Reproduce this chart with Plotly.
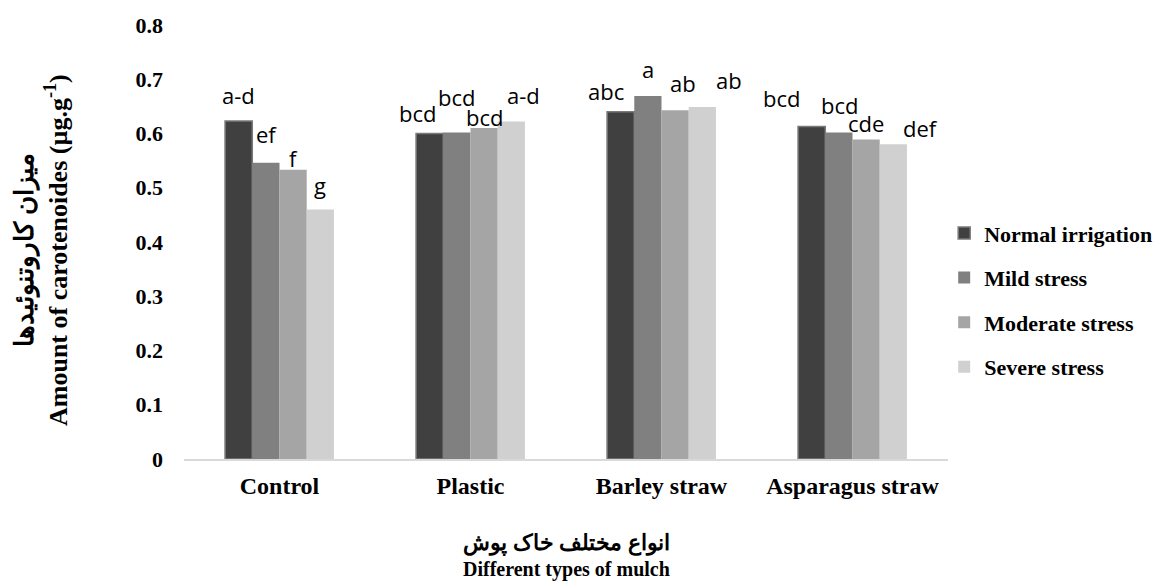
import plotly.graph_objects as go

categories = ["Control", "Plastic", "Barley straw", "Asparagus straw"]
series_names = ["Normal irrigation", "Mild stress", "Moderate stress", "Severe stress"]
normal = [0.623, 0.600, 0.640, 0.613]
mild = [0.546, 0.602, 0.669, 0.602]
moderate = [0.533, 0.610, 0.643, 0.589]
severe = [0.460, 0.622, 0.649, 0.580]
letters = [
    ["a-d", "bcd", "abc", "bcd"],
    ["ef", "bcd", "a", "bcd"],
    ["f", "bcd", "ab", "cde"],
    ["g", "a-d", "ab", "def"],
]
y_ticks = [0, 0.1, 0.2, 0.3, 0.4, 0.5, 0.6, 0.7, 0.8]

# style / layout settings
colors = ["#404040", "#808080", "#a5a5a5", "#d0d0d0"]
label_dx = [[0, -12, -15, -30], [1, 0, 0, 1], [0, 0, 8, 0], [0, 12, 27, 27]]
label_dy = [[26, 21, 21, 28], [29, 35, 27, 27], [12, 11, 27, 16], [24, 27, 27, 16]]

W, H = 1161, 576
ml, mr, mt, mb = 176, 221, 17, 125
bargap = 0.43
plot_w = W - ml - mr
cat_w = plot_w / len(categories)
bar_w = cat_w * (1 - bargap) / len(series_names)

values = [normal, mild, moderate, severe]
fig = go.Figure()
for i, (name, vals) in enumerate(zip(series_names, values)):
    fig.add_trace(go.Bar(
        x=categories, y=vals, name=f"<b>{name}</b>",
        marker=dict(color=colors[i],
                    line=dict(color="#7a7a7a" if i == 0 else colors[i], width=1.5 if i == 0 else 0)),
        legendgroup=name,
    ))
    offset = (i - (len(series_names) - 1) / 2) * bar_w
    for j, cat in enumerate(categories):
        fig.add_annotation(
            x=cat, y=vals[j], xref="x", yref="y",
            text=letters[i][j], showarrow=False,
            xanchor="center", yanchor="middle",
            xshift=offset + label_dx[i][j], yshift=label_dy[i][j],
            font=dict(family="Open Sans, sans-serif", size=22, color="#000000"),
        )

serif = "Liberation Serif, Times New Roman, serif"
fig.add_annotation(
    xref="paper", yref="paper", x=0, y=0.5, xshift=-143, yshift=-8,
    text="<b>میزان کاروتنوئیدها</b><br><b>Amount of carotenoides (µg.g<sup>-1</sup>)</b>",
    textangle=-90, showarrow=False, xanchor="center", yanchor="middle",
    font=dict(family=serif, size=26, color="#000000"),
)
fig.add_annotation(
    xref="paper", yref="paper", x=0.5, y=0, yshift=-96,
    text="<b><span style='font-size:22px'>انواع مختلف خاک پوش</span></b><br><b>Different types of mulch</b>",
    showarrow=False, xanchor="center", yanchor="middle",
    font=dict(family=serif, size=20, color="#000000"),
)

fig.update_layout(
    width=W, height=H,
    margin=dict(l=ml, r=mr, t=mt, b=mb, autoexpand=False),
    paper_bgcolor="white", plot_bgcolor="white",
    barmode="group", bargap=bargap, bargroupgap=0,
    showlegend=True,
    legend=dict(
        x=0.995, xanchor="left", y=0.366, yanchor="middle",
        font=dict(family=serif, size=22, color="#000000"),
        tracegroupgap=13, traceorder="grouped",
        bgcolor="rgba(0,0,0,0)",
    ),
    xaxis=dict(
        showline=True, linecolor="#d9d9d9", linewidth=1.5,
        ticks="", showgrid=False, zeroline=False, automargin=False,
        tickfont=dict(family=serif, size=24, color="#000000"),
        ticklabelstandoff=4,
        tickprefix="<b>", ticksuffix="</b>",
    ),
    yaxis=dict(
        range=[0, 0.8], tickvals=y_ticks, automargin=False,
        ticktext=[f"<b>{v:g}</b>" for v in y_ticks],
        showline=False, showgrid=False, zeroline=False, ticks="",
        tickfont=dict(family=serif, size=22, color="#000000"),
        ticklabelstandoff=20,
    ),
)

fig.write_html("out.html")
